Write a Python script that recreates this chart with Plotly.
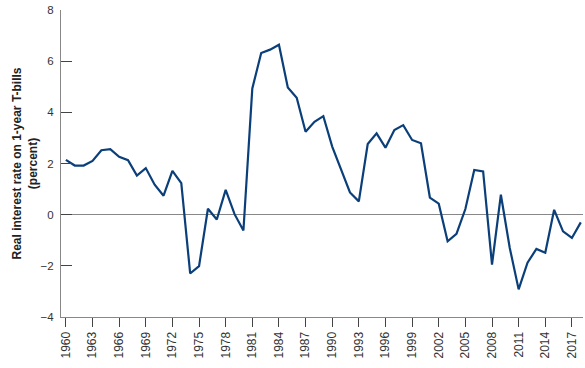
import plotly.graph_objects as go

years = list(range(1960, 2019))
real_rate = [
    2.14, 1.92, 1.92, 2.10, 2.52, 2.56, 2.26, 2.13, 1.53, 1.82,
    1.17, 0.74, 1.71, 1.23, -2.30, -2.01, 0.23, -0.19, 0.97, 0.02,
    -0.62, 4.93, 6.32, 6.45, 6.64, 4.97, 4.57, 3.24, 3.63, 3.85,
    2.66, 1.75, 0.87, 0.52, 2.76, 3.18, 2.62, 3.31, 3.50, 2.92,
    2.79, 0.67, 0.43, -1.04, -0.75, 0.22, 1.75, 1.69, -1.95, 0.78,
    -1.30, -2.92, -1.88, -1.34, -1.49, 0.19, -0.65, -0.91, -0.30,
]
x_ticks = list(range(1960, 2018, 3))
y_ticks = [-4, -2, 0, 2, 4, 6, 8]

fig = go.Figure()
fig.add_trace(go.Scatter(
    x=years, y=real_rate, mode="lines",
    line=dict(color="#0b3f7a", width=2.2),
    hoverinfo="skip", showlegend=False, cliponaxis=False,
))

fig.update_layout(
    width=585, height=368,
    margin=dict(l=61, r=2, t=10, b=51, autoexpand=False),
    paper_bgcolor="white", plot_bgcolor="white",
    font=dict(family="Liberation Sans, Arial, sans-serif", color="#333333"),
    showlegend=False,
)
fig.update_xaxes(
    range=[1959.45, 2018.25],
    tickmode="array", tickvals=x_ticks, ticktext=[str(v) for v in x_ticks],
    tickangle=-90, tickfont=dict(size=12, color="#333333"),
    ticks="outside", ticklen=9, tickcolor="#444444", tickwidth=1,
    showline=True, linecolor="#888888", linewidth=1,
    showgrid=False, zeroline=False, fixedrange=True, automargin=False,
)
fig.update_yaxes(
    range=[-4, 8],
    tickmode="array", tickvals=y_ticks,
    tickfont=dict(size=11.5, color="#333333"),
    ticks="inside", ticklen=11, tickcolor="#444444", tickwidth=1,
    ticklabelstandoff=4, ticklabeloverflow="allow",
    showline=True, linecolor="#888888", linewidth=1,
    showgrid=False, zeroline=True, zerolinecolor="#888888", zerolinewidth=1,
    title=dict(text="<b>Real interest rate on 1-year T-bills<br>(percent)</b>",
               font=dict(size=12, color="#222222"), standoff=0),
    fixedrange=True, automargin=False,
)

fig.write_html(
    "out.html",
    config={"displayModeBar": False, "staticPlot": True},
    post_script="document.body.style.margin='0';document.body.style.overflow='hidden';",
)
